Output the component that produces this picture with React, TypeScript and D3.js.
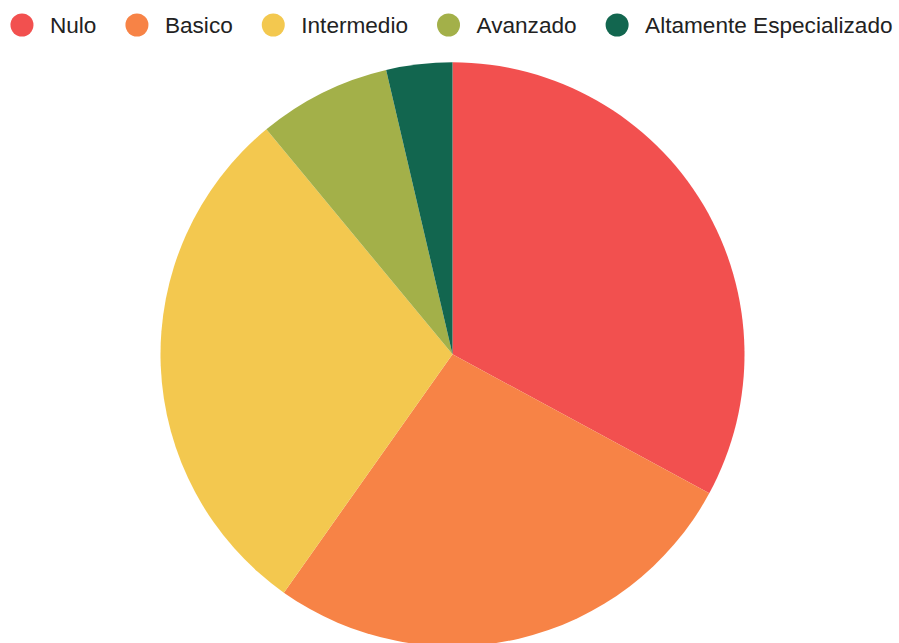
import React, { useEffect, useRef } from "react";
import * as d3 from "d3";

const categories = ["Nulo", "Basico", "Intermedio", "Avanzado", "Altamente Especializado"];
const values = [32.9, 26.9, 29.2, 7.35, 3.65];
const colors = ["#F2504F", "#F78346", "#F3C84F", "#A3B049", "#12664F"];

const W = 899;
const H = 643;

export default function App() {
  const ref = useRef<SVGSVGElement>(null);
  useEffect(() => {
    const svg = d3.select(ref.current);
    svg.selectAll("*").remove();
    const cx = 452.5, cy = 354.3, r = 292;
    const pie = d3.pie<number>().sort(null).value((d) => d);
    const arc = d3.arc<d3.PieArcDatum<number>>().innerRadius(0).outerRadius(r);
    const g = svg.append("g").attr("transform", `translate(${cx},${cy})`);
    g.selectAll("path")
      .data(pie(values))
      .join("path")
      .attr("d", arc)
      .attr("fill", (_, i) => colors[i]);

    // legend
    const font = "22.6px 'Liberation Sans', Arial, sans-serif";
    const lg = svg.append("g");
    const items = categories.map((c, i) => {
      const it = lg.append("g");
      it.append("circle").attr("cx", 0).attr("cy", 0).attr("r", 11.5).attr("fill", colors[i]);
      const t = it
        .append("text")
        .attr("x", 28)
        .attr("y", 0)
        .attr("dy", "0.35em")
        .style("font", font)
        .attr("fill", "#222")
        .text(c);
      const w = (t.node() as SVGTextElement).getComputedTextLength();
      return { it, w: 28 + w + 11.5 };
    });
    const gap = 29;
    const total = items.reduce((s, d) => s + d.w, 0) + gap * (items.length - 1);
    let x = 451.5 - total / 2 + 11.5;
    items.forEach((d) => {
      d.it.attr("transform", `translate(${x},25)`);
      x += d.w + gap;
    });
  }, []);
  return (
    <svg
      ref={ref}
      width={W}
      height={H}
      style={{ position: "absolute", left: 0, top: 0, background: "#fff" }}
    />
  );
}
